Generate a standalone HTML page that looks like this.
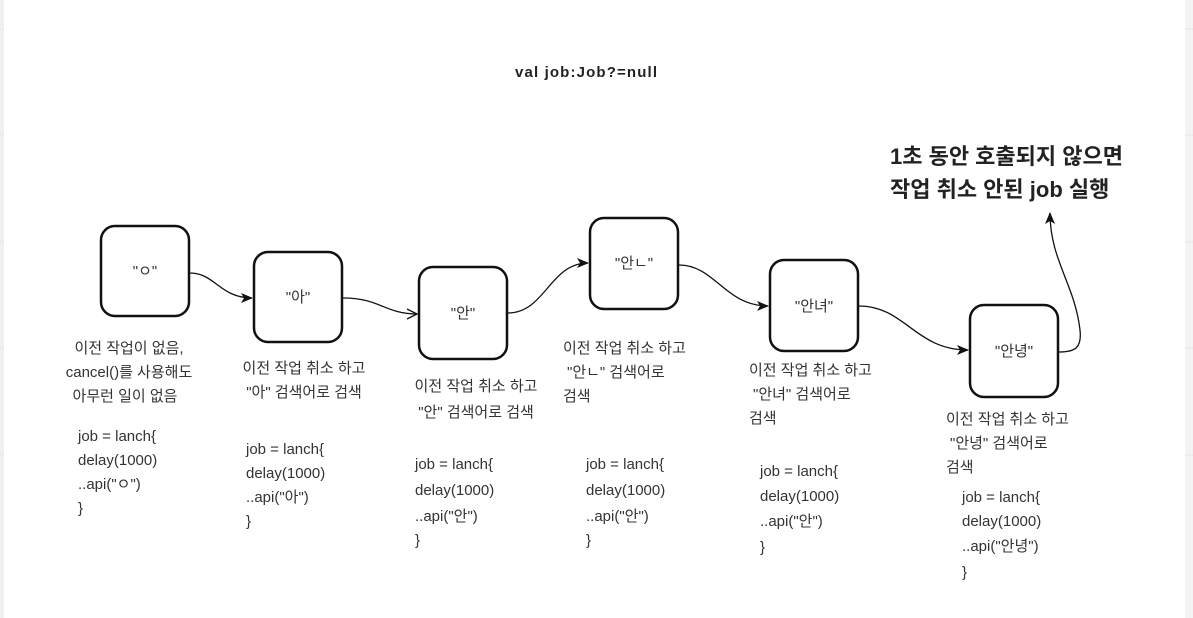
<!DOCTYPE html>
<html><head><meta charset="utf-8"><style>
html,body{margin:0;padding:0;background:#fff;}
svg{display:block;}
text{font-family:"Liberation Sans","Noto Sans CJK KR","NanumGothic",sans-serif;fill:#333;font-size:15px;}
.b{font-weight:bold;fill:#222;}
.box{fill:#fff;stroke:#111;stroke-width:2.5;}
.ln{fill:none;stroke:#111;stroke-width:1.3;}
</style></head><body>
<svg width="1193" height="618" viewBox="0 0 1193 618">
<rect x="0" y="0" width="4" height="618" fill="#f0f0f0"/>
<rect x="1185" y="0" width="8" height="618" fill="#f3f3f3"/>
<g stroke="#e6e6e6" stroke-width="1">
<line x1="0" y1="29" x2="4" y2="29"/><line x1="0" y1="135" x2="4" y2="135"/><line x1="0" y1="242" x2="4" y2="242"/><line x1="0" y1="348" x2="4" y2="348"/><line x1="0" y1="455" x2="4" y2="455"/>
<line x1="1185" y1="29" x2="1193" y2="29"/><line x1="1185" y1="135" x2="1193" y2="135"/><line x1="1185" y1="242" x2="1193" y2="242"/><line x1="1185" y1="348" x2="1193" y2="348"/><line x1="1185" y1="455" x2="1193" y2="455"/>
</g>
<defs>
<marker id="ah" markerWidth="12" markerHeight="10" refX="11" refY="5" orient="auto" markerUnits="userSpaceOnUse"><path d="M0,0 L12,5 L0,10 L3,5 Z" fill="#111"/></marker>
<marker id="ao" markerWidth="12" markerHeight="12" refX="11" refY="6" orient="auto" markerUnits="userSpaceOnUse"><path d="M1,1 L11,6 L1,11" fill="none" stroke="#111" stroke-width="1.3"/></marker>
</defs>

<text x="586" y="77" text-anchor="middle" class="b" textLength="142">val job:Job?=null</text>
<text x="890" y="164" class="b" style="font-size:22px">1초 동안 호출되지 않으면</text>
<text x="890" y="197" class="b" style="font-size:22px">작업 취소 안된 job  실행</text>

<rect class="box" x="101" y="226" width="88" height="90" rx="14"/>
<rect class="box" x="254" y="252" width="88" height="90" rx="14"/>
<rect class="box" x="419" y="267" width="88" height="92" rx="14"/>
<rect class="box" x="590" y="218" width="88" height="91" rx="14"/>
<rect class="box" x="770" y="260" width="88" height="91" rx="14"/>
<rect class="box" x="970" y="305" width="88" height="92" rx="14"/>

<text x="145" y="276" text-anchor="middle">"ㅇ"</text>
<text x="298" y="302" text-anchor="middle">"아"</text>
<text x="463" y="318" text-anchor="middle">"안"</text>
<text x="634" y="268" text-anchor="middle">"안ㄴ"</text>
<text x="814" y="311" text-anchor="middle">"안녀"</text>
<text x="1014" y="356" text-anchor="middle">"안녕"</text>

<path class="ln" d="M190,273 C215,273 220,298 252,298" marker-end="url(#ah)"/>
<path class="ln" d="M343,298 C380,298 385,314 417,314" marker-end="url(#ao)"/>
<path class="ln" d="M508,313 C545,313 550,263 588,263" marker-end="url(#ah)"/>
<path class="ln" d="M679,265 C715,265 725,306 768,306" marker-end="url(#ah)"/>
<path class="ln" d="M859,306 C905,306 915,350 968,350" marker-end="url(#ah)"/>
<path class="ln" d="M1059,352 C1075,352 1082,348 1080,330 C1075,285 1050,260 1050,213" marker-end="url(#ah)"/>

<g text-anchor="middle">
<text x="129" y="353">이전 작업이 없음,</text>
<text x="129" y="377">cancel()를 사용해도</text>
<text x="125" y="401">아무런 일이 없음</text>
<text x="304" y="373">이전 작업 취소 하고</text>
<text x="304" y="397">"아" 검색어로 검색</text>
<text x="476" y="391">이전 작업 취소 하고</text>
<text x="476" y="417">"안" 검색어로 검색</text>
</g>
<text x="563" y="353">이전 작업 취소 하고</text>
<text x="567" y="377">"안ㄴ" 검색어로</text>
<text x="563" y="401">검색</text>
<text x="749" y="375">이전 작업 취소 하고</text>
<text x="753" y="399">"안녀" 검색어로</text>
<text x="749" y="423">검색</text>
<text x="946" y="424">이전 작업 취소 하고</text>
<text x="950" y="448">"안녕" 검색어로</text>
<text x="946" y="472">검색</text>

<g>
<text x="78" y="441">job = lanch{</text><text x="78" y="465">delay(1000)</text><text x="78" y="489">..api("ㅇ")</text><text x="78" y="513">}</text>
<text x="246" y="454">job = lanch{</text><text x="246" y="478">delay(1000)</text><text x="246" y="502">..api("아")</text><text x="246" y="526">}</text>
<text x="415" y="469">job = lanch{</text><text x="415" y="495">delay(1000)</text><text x="415" y="521">..api("안")</text><text x="415" y="545">}</text>
<text x="586" y="469">job = lanch{</text><text x="586" y="495">delay(1000)</text><text x="586" y="521">..api("안")</text><text x="586" y="545">}</text>
<text x="760" y="476">job = lanch{</text><text x="760" y="501">delay(1000)</text><text x="760" y="526">..api("안")</text><text x="760" y="552">}</text>
<text x="962" y="502">job = lanch{</text><text x="962" y="526">delay(1000)</text><text x="962" y="551">..api("안녕")</text><text x="962" y="577">}</text>
</g>
</svg>
</body></html>
